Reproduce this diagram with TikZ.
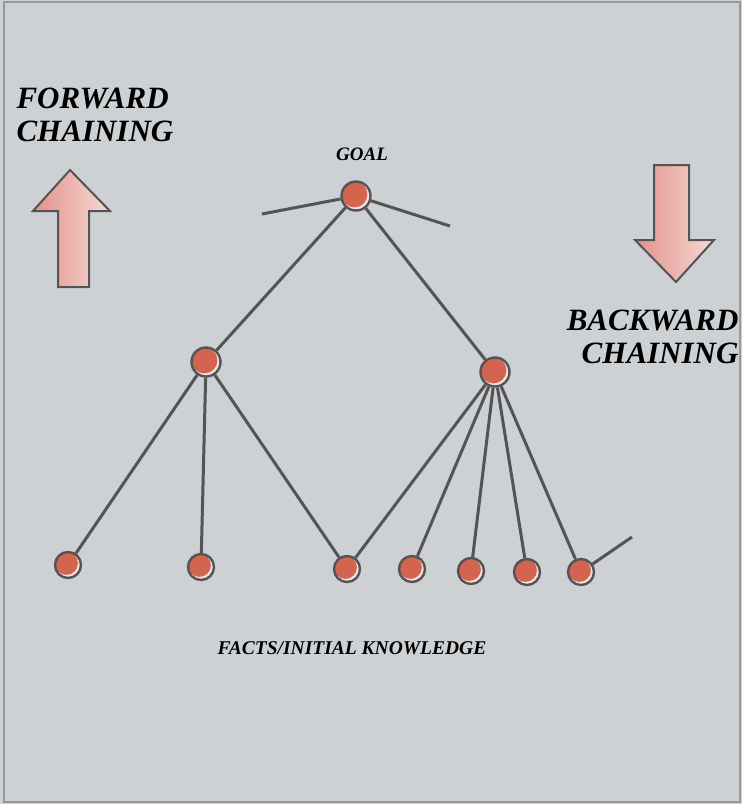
\documentclass[tikz,border=0pt]{standalone}
\usepackage{fontspec}
\setmainfont{Liberation Serif}
\usetikzlibrary{arrows}

\definecolor{paper}{RGB}{206,209,211}
\definecolor{linegray}{RGB}{84,84,86}
\definecolor{nodered}{RGB}{210,100,80}
\definecolor{arrowpink}{RGB}{226,146,136}

\tikzset{
  branch/.style={draw=linegray, line width=3pt},
  fact/.style={circle, minimum size=26pt, inner sep=0pt, draw=linegray, line width=2.4pt,
    fill=white!80!nodered,
    path picture={\fill[nodered] ([xshift=-1.6pt,yshift=1.6pt]path picture bounding box.center) circle (11.5pt);}},
  inner/.style={fact, minimum size=29pt,
    path picture={\fill[nodered] ([xshift=-1.6pt,yshift=1.6pt]path picture bounding box.center) circle (13pt);}},
  bigarrow/.style={draw=linegray, line width=2pt, left color=arrowpink, right color=white!65!arrowpink},
  title/.style={font=\fontsize{31}{33}\selectfont\bfseries\itshape},
}

\begin{document}
\begin{tikzpicture}[x=1pt, y=-1pt]
  \useasboundingbox (0,0) rectangle (742,804);
  \fill[paper] (0,0) rectangle (742,804);
  \draw[linegray!60, line width=1.5pt] (4,2) rectangle (740,802);

  % chaining arrows
  \draw[bigarrow] (70,170) -- (110,211) -- (89,211) -- (89,287) -- (58,287) -- (58,211) -- (33,211) -- cycle;
  \draw[bigarrow] (654,165) -- (689,165) -- (689,240) -- (714,240) -- (676,282) -- (635,240) -- (654,240) -- cycle;

  \node[title, align=left, anchor=north west] (fwd) at (13,84) {FORWARD\\CHAINING};
  \node[title, align=right, anchor=north east] (bwd) at (742,306) {BACKWARD\\CHAINING};

  % tree
  \node[inner] (goal) at (356,196) {};
  \node[inner] (left) at (206,362) {};
  \node[inner] (right) at (495,372) {};

  \node[fact] (f1) at (68,565) {};
  \node[fact] (f2) at (201,567) {};
  \node[fact] (f3) at (347,569) {};
  \node[fact] (f4) at (412,569) {};
  \node[fact] (f5) at (471,571) {};
  \node[fact] (f6) at (527,572) {};
  \node[fact] (f7) at (581,572) {};

  \coordinate (gl) at (262,214);
  \coordinate (gr) at (450,226);
  \coordinate (fs) at (632,537);

  \draw[branch] (goal) -- (gl);
  \draw[branch] (goal) -- (gr);
  \draw[branch] (goal) -- (left);
  \draw[branch] (goal) -- (right);
  \draw[branch] (left) -- (f1);
  \draw[branch] (left) -- (f2);
  \draw[branch] (left) -- (f3);
  \draw[branch] (right) -- (f3);
  \draw[branch] (right) -- (f4);
  \draw[branch] (right) -- (f5);
  \draw[branch] (right) -- (f6);
  \draw[branch] (right) -- (f7);
  \draw[branch] (f7) -- (fs);

  \node[font=\fontsize{19}{21}\selectfont\bfseries\itshape] (goaltxt) at (362,154) {GOAL};
  \node[font=\fontsize{19.5}{21}\selectfont\bfseries\itshape] (facts) at (352,648) {FACTS/INITIAL KNOWLEDGE};
\end{tikzpicture}
\end{document}
